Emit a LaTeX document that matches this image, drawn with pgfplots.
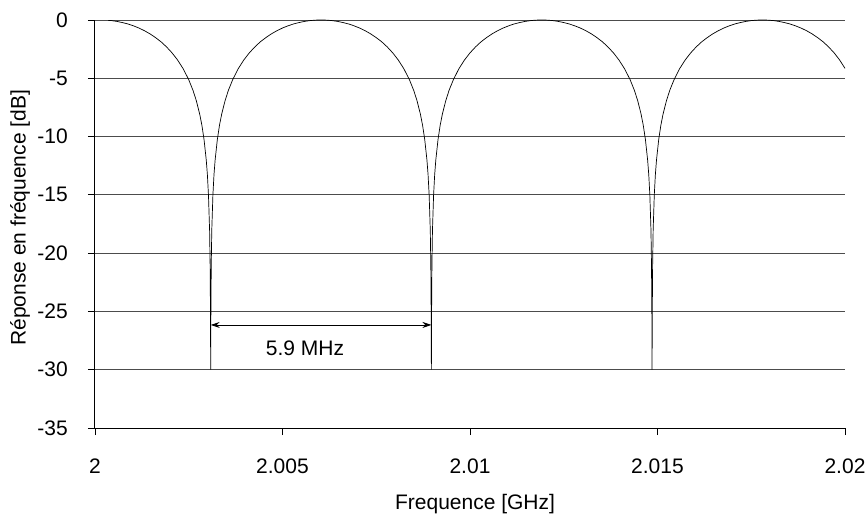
\documentclass[border=0pt]{standalone}
\usepackage{pgfplots}
\pgfplotsset{compat=1.18}
\usepackage{fontspec}
\setmainfont{Liberation Sans}
\usetikzlibrary{arrows.meta}

% Comb-filter response; x is the offset from 2 GHz in MHz
\pgfplotstableread{
x y
0.350 -0.03
0.437 -0.05
0.584 -0.12
0.731 -0.22
0.878 -0.34
1.025 -0.50
1.172 -0.69
1.320 -0.92
1.467 -1.19
1.614 -1.51
1.761 -1.87
1.908 -2.31
2.055 -2.82
2.202 -3.43
2.349 -4.17
2.497 -5.10
2.614 -6.04
2.703 -6.93
2.791 -8.06
2.850 -9.02
2.908 -10.26
2.967 -12.02
2.997 -13.27
3.026 -15.03
3.056 -18.04
3.070 -21.05
3.079 -25.03
3.085 -30
3.091 -25.03
3.100 -21.05
3.114 -18.04
3.144 -15.03
3.173 -13.27
3.203 -12.02
3.262 -10.26
3.320 -9.02
3.379 -8.06
3.468 -6.93
3.556 -6.04
3.674 -5.10
3.821 -4.17
3.968 -3.43
4.115 -2.82
4.262 -2.31
4.409 -1.87
4.556 -1.51
4.703 -1.19
4.851 -0.92
4.998 -0.69
5.145 -0.50
5.292 -0.34
5.439 -0.22
5.586 -0.12
5.733 -0.05
5.880 -0.01
6.028 0
6.175 -0.01
6.322 -0.05
6.469 -0.12
6.616 -0.22
6.763 -0.34
6.910 -0.50
7.057 -0.69
7.205 -0.92
7.352 -1.19
7.499 -1.51
7.646 -1.87
7.793 -2.31
7.940 -2.82
8.087 -3.43
8.234 -4.17
8.382 -5.10
8.499 -6.04
8.588 -6.93
8.676 -8.06
8.735 -9.02
8.793 -10.26
8.852 -12.02
8.882 -13.27
8.911 -15.03
8.941 -18.04
8.955 -21.05
8.964 -25.03
8.970 -30
8.976 -25.03
8.985 -21.05
8.999 -18.04
9.029 -15.03
9.058 -13.27
9.088 -12.02
9.147 -10.26
9.205 -9.02
9.264 -8.06
9.353 -6.93
9.441 -6.04
9.559 -5.10
9.706 -4.17
9.853 -3.43
10.000 -2.82
10.147 -2.31
10.294 -1.87
10.441 -1.51
10.588 -1.19
10.736 -0.92
10.883 -0.69
11.030 -0.50
11.177 -0.34
11.324 -0.22
11.471 -0.12
11.618 -0.05
11.765 -0.01
11.913 0
12.060 -0.01
12.207 -0.05
12.354 -0.12
12.501 -0.22
12.648 -0.34
12.795 -0.50
12.942 -0.69
13.090 -0.92
13.237 -1.19
13.384 -1.51
13.531 -1.87
13.678 -2.31
13.825 -2.82
13.972 -3.43
14.119 -4.17
14.267 -5.10
14.384 -6.04
14.473 -6.93
14.561 -8.06
14.620 -9.02
14.678 -10.26
14.737 -12.02
14.767 -13.27
14.796 -15.03
14.826 -18.04
14.840 -21.05
14.849 -25.03
14.855 -30
14.861 -25.03
14.870 -21.05
14.884 -18.04
14.914 -15.03
14.943 -13.27
14.973 -12.02
15.032 -10.26
15.090 -9.02
15.149 -8.06
15.238 -6.93
15.326 -6.04
15.444 -5.10
15.591 -4.17
15.738 -3.43
15.885 -2.82
16.032 -2.31
16.179 -1.87
16.326 -1.51
16.473 -1.19
16.621 -0.92
16.768 -0.69
16.915 -0.50
17.062 -0.34
17.209 -0.22
17.356 -0.12
17.503 -0.05
17.650 -0.01
17.798 0
17.945 -0.01
18.092 -0.05
18.239 -0.12
18.386 -0.22
18.533 -0.34
18.680 -0.50
18.827 -0.69
18.975 -0.92
19.122 -1.19
19.269 -1.51
19.416 -1.87
19.563 -2.31
19.710 -2.82
19.857 -3.43
20.000 -4.15
}\response

\begin{document}
\fontsize{21bp}{25bp}\selectfont
\begin{tikzpicture}
\begin{axis}[
  at={(0,0)}, anchor=south west,
  scale only axis,
  width=750bp, height=408bp,
  xmin=0, xmax=20, ymin=-35, ymax=0,
  axis lines=left,
  axis line style={-, black, line width=1bp},
  xtick={0,5,10,15,20},
  xticklabels={2,2.005,2.01,2.015,2.02},
  ytick={-35,-30,-25,-20,-15,-10,-5,0},
  yticklabels={-35,-30,-25,-20,-15,-10,-5,0},
  tick align=outside,
  major tick length=7bp,
  tick style={black, line width=0.8bp},
  ymajorgrids,
  major grid style={black!70, line width=1bp},
  xticklabel style={anchor=center, yshift=-31bp, inner sep=0pt},
  yticklabel style={anchor=east, inner sep=0pt, xshift=-20bp},
  xlabel={Frequence [GHz]},
  ylabel={Réponse en fréquence [dB]},
  xlabel style={at={(axis description cs:0.5067,-0.186)}, anchor=center},
  ylabel style={at={(axis description cs:-0.1,0.515)}, anchor=center, rotate=0},
  clip=false,
]
\addplot[black, line width=0.7bp] table[x=x, y=y] {\response};
\draw[{Stealth[length=9bp,width=6bp]}-{Stealth[length=9bp,width=6bp]}, line width=0.8bp]
  (axis cs:3.085,-26.16) -- (axis cs:8.97,-26.16);
\node[anchor=center] at (axis cs:5.6,-28.2) {5.9 MHz};
\end{axis}
\path[use as bounding box] (-95bp,-86bp) rectangle (773bp,428bp);
\end{tikzpicture}
\end{document}
